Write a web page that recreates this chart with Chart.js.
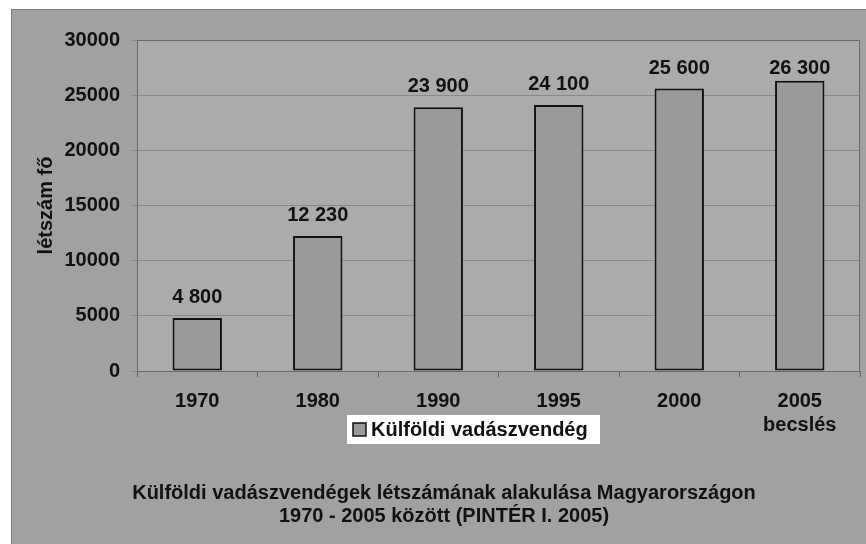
<!DOCTYPE html>
<html>
<head>
<meta charset="utf-8">
<script src="https://cdn.jsdelivr.net/npm/chart.js@4/dist/chart.umd.min.js"></script>
<style>
  html, body { margin: 0; padding: 0; background: #fff; }
  #chart { display: block; }
</style>
</head>
<body>
<canvas id="chart" width="866" height="544"></canvas>
<script>
// --- data ---
const years = ['1970', '1980', '1990', '1995', '2000', ['2005', 'becslés']];
const guests = [4800, 12230, 23900, 24100, 25600, 26300];
const seriesName = 'Külföldi vadászvendég';
const yTicks = [0, 5000, 10000, 15000, 20000, 25000, 30000];
const titleLines = ['Külföldi vadászvendégek létszámának alakulása Magyarországon', '1970 - 2005 között (PINTÉR I. 2005)'];

const FONT = '"Liberation Sans", Arial, sans-serif';
const barFill = '#9a9a9a';

const spaced = v => String(v).replace(/\B(?=(\d{3})+(?!\d))/g, ' ');

// background panels, frame, value labels, legend box
const decor = {
  id: 'decor',
  beforeDraw(chart) {
    const { ctx, chartArea: a } = chart;
    ctx.save();
    ctx.fillStyle = '#a1a1a1';
    ctx.fillRect(11, 9, chart.width - 11, chart.height - 9);
    ctx.strokeStyle = '#7a7a7a';
    ctx.lineWidth = 1;
    ctx.beginPath();
    ctx.moveTo(11.5, chart.height);
    ctx.lineTo(11.5, 9.5);
    ctx.lineTo(chart.width, 9.5);
    ctx.stroke();
    ctx.fillStyle = '#ababab';
    ctx.fillRect(a.left, a.top, a.right - a.left, a.bottom - a.top);
    ctx.restore();
  },
  afterDatasetsDraw(chart) {
    const { ctx, chartArea: a } = chart;
    ctx.save();
    ctx.strokeStyle = '#6a6a6a';
    ctx.lineWidth = 1;
    ctx.strokeRect(a.left + 0.5, a.top + 0.5, a.right - a.left - 1, a.bottom - a.top);

    // value labels
    ctx.fillStyle = '#111';
    ctx.font = 'bold 20px ' + FONT;
    ctx.textAlign = 'center';
    ctx.textBaseline = 'middle';
    chart.getDatasetMeta(0).data.forEach((bar, i) => {
      const y = Math.max(bar.y - 21, a.top + 28);
      ctx.fillText(spaced(guests[i]), bar.x, y);
    });

    // legend
    const lx = 347, ly = 415, lw = 253, lh = 29;
    ctx.fillStyle = '#fff';
    ctx.fillRect(lx, ly, lw, lh);
    ctx.fillStyle = barFill;
    ctx.fillRect(lx + 6, ly + 8, 13, 13);
    ctx.strokeStyle = '#111';
    ctx.lineWidth = 1.5;
    ctx.strokeRect(lx + 6, ly + 8, 13, 13);
    ctx.fillStyle = '#111';
    ctx.textAlign = 'left';
    ctx.fillText(chart.data.datasets[0].label, lx + 24, ly + lh / 2 + 1);
    ctx.restore();
  }
};

new Chart(document.getElementById('chart'), {
  type: 'bar',
  data: {
    labels: years,
    datasets: [{
      label: seriesName,
      data: guests,
      backgroundColor: barFill,
      borderColor: '#111',
      borderWidth: 2,
      borderSkipped: false,
      categoryPercentage: 1,
      barPercentage: 0.41
    }]
  },
  options: {
    responsive: false,
    animation: false,
    devicePixelRatio: 1,
    layout: { padding: { left: 28, top: 40, right: 6, bottom: 0 } },
    plugins: {
      legend: { display: false },
      tooltip: { enabled: false },
      title: {
        display: true,
        position: 'bottom',
        text: titleLines,
        color: '#111',
        font: { family: FONT, size: 20, weight: 'bold', lineHeight: 1.15 },
        padding: { top: 0, bottom: 16 }
      }
    },
    scales: {
      x: {
        afterFit: s => { s.height = 111; },
        grid: { drawOnChartArea: false, drawTicks: true, tickLength: 6, color: '#666' },
        border: { color: '#555' },
        ticks: {
          color: '#111',
          padding: 12,
          maxRotation: 0,
          font: { family: FONT, size: 20, weight: 'bold' }
        }
      },
      y: {
        min: 0,
        max: 30000,
        afterFit: s => { s.width = 109; },
        afterBuildTicks: s => { s.ticks = yTicks.map(v => ({ value: v })); },
        grid: { color: '#8a8a8a', tickLength: 6 },
        border: { color: '#555' },
        ticks: {
          color: '#111',
          padding: 11,
          callback: v => String(v),
          font: { family: FONT, size: 20, weight: 'bold' }
        },
        title: {
          display: true,
          text: 'létszám fő',
          color: '#111',
          padding: { top: 6, bottom: 0 },
          font: { family: FONT, size: 20, weight: 'bold' }
        }
      }
    }
  },
  plugins: [decor]
});
</script>
</body>
</html>
